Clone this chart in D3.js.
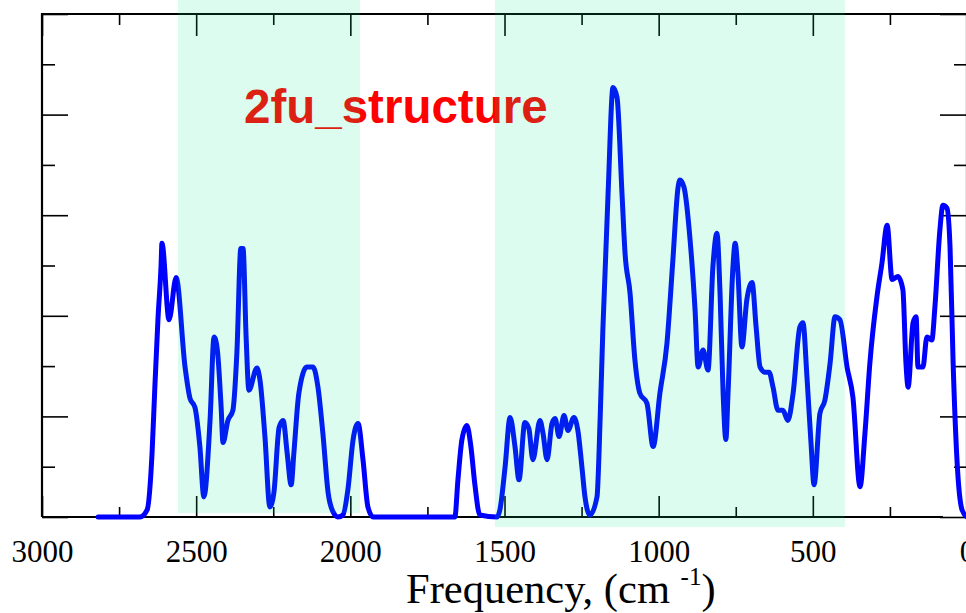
<!DOCTYPE html>
<html>
<head>
<meta charset="utf-8">
<script src="https://cdn.jsdelivr.net/npm/d3@7"></script>
<style>
body{margin:0;background:#fff;overflow:hidden;}
svg{display:block;}
.axis text{font-family:"Liberation Serif","Times New Roman",serif;font-size:31px;fill:#000;}
</style>
</head>
<body>
<div id="chart"></div>
<script>
// spectrum (cm-1 / arbitrary intensity)
var frequency = [2818,2682,2659,2643,2634,2624,2614,2611,2588,2565,2536,2520,2504,2488,2475,
	2455,2442,2432,2419,2413,2397,2381,2368,2355,2348,2338,2329,2303,2293,2277,2261,2248,
	2231,2218,2205,2192,2183,2167,2141,2121,2105,2089,2072,2056,2040,2024,2008,1991,1975,
	1959,1943,1926,1661,1651,1638,1622,1609,1596,1580,1524,1515,1498,1482,1466,1453,1434,
	1421,1408,1385,1375,1362,1346,1336,1323,1307,1294,1275,1262,1249,1239,1223,1200,1190,
	1181,1164,1148,1135,1119,1109,1093,1077,1061,1038,1018,996,973,954,937,931,918,898,
	882,872,856,840,824,811,801,791,782,775,759,752,743,730,714,697,684,671,655,642,629,
	613,597,581,564,542,532,519,506,496,477,461,444,428,412,389,370,347,331,315,292,276,
	259,243,224,208,198,191,175,165,159,143,130,114,104,88,78,65,55,45,32,16,0];
var intensity = [0,0,0.07,0.64,1.29,1.96,2.49,2.72,1.96,2.38,1.49,1.18,1.09,0.70,0.20,
	0.96,1.79,1.68,1.09,0.74,0.96,1.06,1.63,2.67,2.67,1.79,1.26,1.48,1.36,0.80,0.10,0.24,
	0.89,0.96,0.64,0.32,0.64,1.23,1.49,1.49,1.29,0.83,0.24,0.05,0,0.02,0.27,0.77,0.93,
	0.57,0.10,0,0,0.37,0.77,0.91,0.70,0.32,0.02,0,0.07,0.50,0.99,0.70,0.37,0.94,
	0.88,0.57,0.96,0.83,0.57,0.93,0.98,0.80,1.01,0.86,0.99,0.86,0.50,0.20,0.02,0.20,0.96,
	1.86,3.22,4.27,4.17,3.22,2.62,2.23,1.56,1.23,1.13,0.70,1.23,1.73,2.55,3.28,3.35,3.28,2.75,
	2.06,1.49,1.66,1.46,2.49,2.82,2.23,1.23,0.77,1.23,2.49,2.72,2.43,1.69,2.16,2.33,1.89,1.49,1.44,1.44,1.29,
	1.06,1.06,0.96,1.23,1.89,1.93,1.39,0.74,0.32,1.03,1.16,1.53,1.99,1.96,1.49,1.19,0.30,0.83,1.53,2.19,2.52,
	2.90,2.36,2.39,2.26,1.53,1.29,1.93,1.99,1.49,1.49,1.79,1.76,2.09,2.85,3.10,3.07,2.68,1.53,0.54,0.07,0];

var xMajor = [3000,2500,2000,1500,1000,500,0];
var xMinor = [2750,2250,1750,1250,750,250];
var yMajor = [0,1,2,3,4,5];
var yMinor = [0.5,1.5,2.5,3.5,4.5];
var bands = [[2559,1969],[1531,396]];
var bandBottom = [499, 513];
var title = '2fu_structure';

var width = 966, height = 613;
var margin = {top: 14, left: 42};
var W = 925, H = 503;

var svg = d3.select('#chart').append('svg')
	.attr('width', width).attr('height', height);
var g = svg.append('g')
	.attr('transform', 'translate(' + [margin.left, margin.top] + ')');

var x = d3.scaleLinear().domain([3000, 0]).range([0, W]);
var y = d3.scaleLinear().domain([0, 5]).range([H, 0]);

function styleAxis(sel){
	sel.selectAll('.tick line').attr('stroke', '#000').attr('stroke-width', 1.6);
	sel.select('.domain').remove();
}

// bottom
var gb = g.append('g').attr('class', 'axis').attr('transform', 'translate(0,' + H + ')')
	.call(d3.axisBottom(x).tickValues(xMajor).tickSize(-21).tickSizeOuter(0).tickFormat(d3.format('d')));
gb.selectAll('text').attr('y', 45).attr('dy', 0);
styleAxis(gb);
g.append('g').attr('class', 'axis').attr('transform', 'translate(0,' + H + ')')
	.call(d3.axisBottom(x).tickValues(xMinor).tickSize(-10).tickFormat(''))
	.call(styleAxis);
// top
g.append('g').attr('class', 'axis')
	.call(d3.axisTop(x).tickValues(xMajor).tickSize(-22).tickFormat(''))
	.call(styleAxis);
g.append('g').attr('class', 'axis')
	.call(d3.axisTop(x).tickValues(xMinor).tickSize(-11).tickFormat(''))
	.call(styleAxis);
// left / right
g.append('g').attr('class', 'axis')
	.call(d3.axisLeft(y).tickValues(yMajor).tickSize(-26).tickFormat(''))
	.call(styleAxis);
g.append('g').attr('class', 'axis')
	.call(d3.axisLeft(y).tickValues(yMinor).tickSize(-13).tickFormat(''))
	.call(styleAxis);
g.append('g').attr('class', 'axis').attr('transform', 'translate(' + W + ',0)')
	.call(d3.axisRight(y).tickValues(yMajor).tickSize(-27).tickFormat(''))
	.call(styleAxis);
g.append('g').attr('class', 'axis').attr('transform', 'translate(' + W + ',0)')
	.call(d3.axisRight(y).tickValues(yMinor).tickSize(-13).tickFormat(''))
	.call(styleAxis);

// frame
g.append('path')
	.attr('d', 'M' + x(3000) + ',' + y(0) + 'V' + y(5) + 'H' + x(0) + 'V' + y(0))
	.attr('fill', 'none').attr('stroke', '#000').attr('stroke-width', 2.2);
g.append('line')
	.attr('x1', x(3000)).attr('x2', x(78)).attr('y1', y(0)).attr('y2', y(0))
	.attr('stroke', '#000').attr('stroke-width', 2.2);

// spectrum
var pts = frequency.map(function(f, i){ return {f: f, v: intensity[i]}; });
var line = d3.line()
	.x(function(d){ return x(d.f); })
	.y(function(d){ return y(d.v); })
	.curve(d3.curveMonotoneX);
g.append('path')
	.datum(pts)
	.attr('d', line)
	.attr('fill', 'none')
	.attr('stroke', '#0000ff')
	.attr('stroke-width', 5)
	.attr('stroke-linejoin', 'round')
	.attr('stroke-linecap', 'round');

// labels
svg.append('text')
	.attr('x', 244).attr('y', 123)
	.attr('font-family', '"Liberation Sans", Arial, sans-serif')
	.attr('font-weight', 'bold')
	.attr('font-size', 47.5)
	.attr('fill', '#ff0000')
	.text(title);

var xl = svg.append('text')
	.attr('x', 406).attr('y', 603)
	.attr('font-family', '"Liberation Serif", "Times New Roman", serif')
	.attr('font-size', 42.5)
	.attr('fill', '#000');
xl.append('tspan').text('Frequency, (cm ');
xl.append('tspan').attr('font-size', 25).attr('dy', -18).text('-1');
xl.append('tspan').attr('dy', 18).text(')');

// translucent highlight bands on top
svg.selectAll('rect.band')
	.data(bands)
	.enter().append('rect')
	.attr('class', 'band')
	.attr('x', function(d){ return margin.left + x(d[0]); })
	.attr('width', function(d){ return x(d[1]) - x(d[0]); })
	.attr('y', 0)
	.attr('height', function(d, i){ return margin.top + bandBottom[i]; })
	.attr('fill', 'rgb(0,233,146)')
	.attr('fill-opacity', 0.137);
</script>
</body>
</html>
